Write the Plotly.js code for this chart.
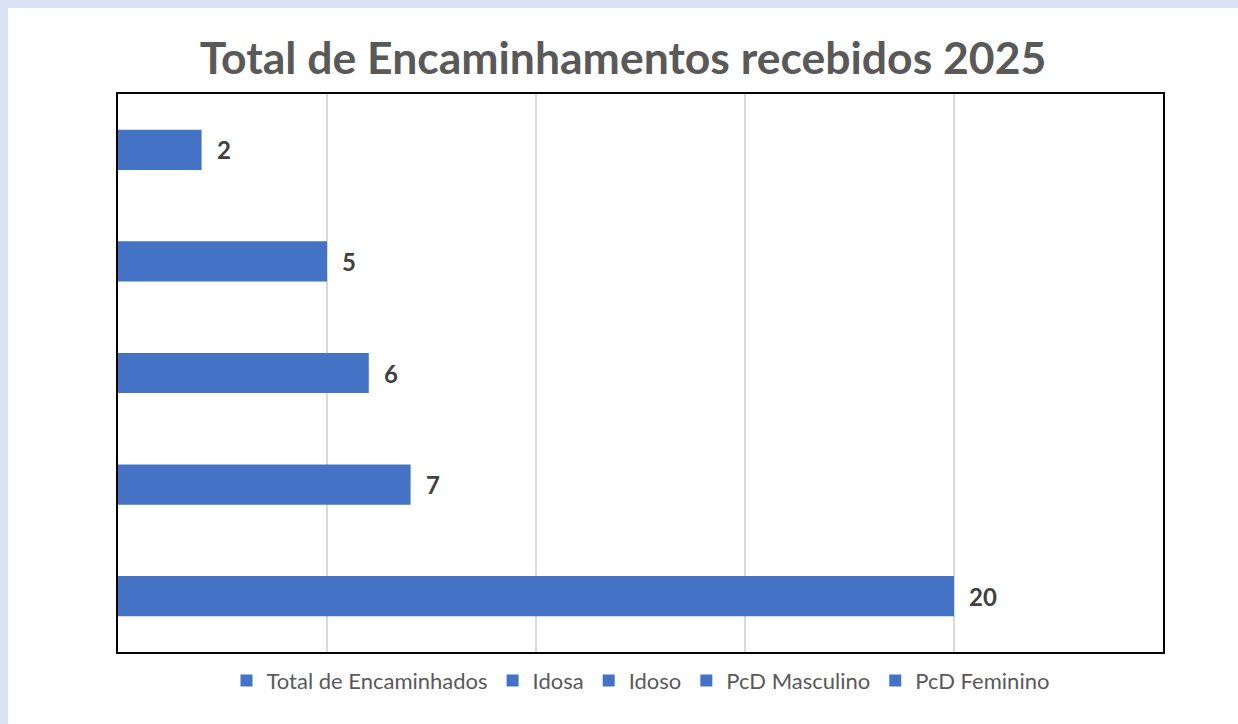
<!DOCTYPE html>
<html>
<head>
<meta charset="utf-8">
<script src="https://cdn.plot.ly/plotly-3.0.1.min.js"></script>
<style>
  html, body { margin: 0; padding: 0; background: #dae3f3; }
  #chart { position: absolute; left: 8px; top: 8px; width: 1230px; height: 716px; background: #fff; }
</style>
</head>
<body>
<div id="chart"></div>
<script>
// series, bottom bar first (Excel order)
const seriesNames = ['Total de Encaminhados', 'Idosa', 'Idoso', 'PcD Masculino', 'PcD Feminino'];
const seriesValues = [20, 7, 6, 5, 2];

const barColor = '#4472c4';
const fontFamily = 'Lato, "Open Sans", sans-serif';

const traces = seriesNames.map((name, i) => ({
    y: [name],
    x: [seriesValues[i]],
    type: 'bar',
    orientation: 'h',
    name: name,
    width: 0.36,
    marker: { color: barColor },
    hoverinfo: 'x+name'
}));

const labels = seriesNames.map((name, i) => ({
    x: seriesValues[i],
    y: name,
    xref: 'x',
    yref: 'y',
    text: '<b>' + seriesValues[i] + '</b>',
    showarrow: false,
    xanchor: 'left',
    xshift: 13,
    font: { family: fontFamily, size: 24, color: '#404040' }
}));

const layout = {
    title: {
        text: '<b>Total de Encaminhamentos recebidos 2025</b>',
        x: 0.5,
        xanchor: 'center',
        y: 1 - 50 / 716,
        yanchor: 'middle',
        font: { family: fontFamily, size: 44.5, color: '#595959' }
    },
    margin: { l: 110, r: 75, t: 86, b: 72 },
    paper_bgcolor: '#ffffff',
    plot_bgcolor: '#ffffff',
    barmode: 'overlay',
    showlegend: true,
    legend: {
        orientation: 'h',
        x: 0.5,
        xanchor: 'center',
        y: -0.014,
        yanchor: 'top',
        traceorder: 'normal',
        font: { family: fontFamily, size: 22, color: '#595959' },
        itemwidth: 30
    },
    xaxis: {
        range: [0, 25],
        dtick: 5,
        showgrid: true,
        gridcolor: '#d9d9d9',
        gridwidth: 2,
        zeroline: false,
        showticklabels: false,
        ticks: '',
        showline: true,
        mirror: true,
        linecolor: '#000000',
        linewidth: 2
    },
    yaxis: {
        type: 'category',
        categoryorder: 'array',
        categoryarray: seriesNames,
        showgrid: false,
        zeroline: false,
        showticklabels: false,
        ticks: '',
        showline: true,
        mirror: true,
        linecolor: '#000000',
        linewidth: 2
    },
    annotations: labels
};

Plotly.newPlot('chart', traces, layout, { displayModeBar: false });
</script>
</body>
</html>
